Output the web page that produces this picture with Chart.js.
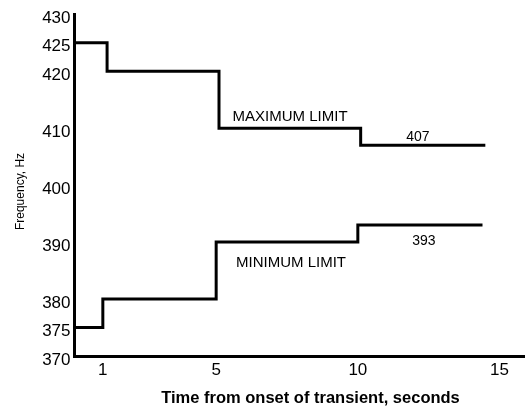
<!DOCTYPE html>
<html>
<head>
<meta charset="utf-8">
<title>Frequency transient limits</title>
<script src="https://cdn.jsdelivr.net/npm/chart.js@4/dist/chart.umd.min.js"></script>
<style>
    html, body { margin: 0; padding: 0; background: #fff; }
    #wrap { width: 525px; height: 410px; position: relative; }
</style>
</head>
<body>
<div id="wrap"><canvas id="freqChart"></canvas></div>
<script>
// values
let maxTimes = [0, 1.15, 5.1, 10.1, 14.5];
let maxHz = [425, 420, 410, 407, 407];
let minTimes = [0, 1, 5, 10, 14.4];
let minHz = [375, 380, 390, 393, 393];

let xTicks = [1, 5, 10, 15];
let yTicks = [370, 375, 380, 390, 400, 410, 420, 425, 430];

// text notes on the plot (data units)
let noteText = ["MAXIMUM LIMIT", "407", "393", "MINIMUM LIMIT"];
let noteX = [7.61, 12.12, 12.33, 7.64];
let noteY = [411.3, 407.8, 389.4, 385.6];

const FONT = "'Liberation Sans', Arial, sans-serif";

function toPoints(xs, ys) {
    return xs.map((x, i) => ({ x: x, y: ys[i] }));
}

// draws the notes and the two axis titles
const textPlugin = {
    id: "textPlugin",
    afterDraw(chart) {
        let ctx = chart.ctx;
        let xs = chart.scales.x;
        let ys = chart.scales.y;
        ctx.save();
        ctx.fillStyle = "#000";
        ctx.textAlign = "center";
        ctx.textBaseline = "alphabetic";
        noteText.forEach((t, i) => {
            ctx.font = (t.length > 3 ? "15px " : "14px ") + FONT;
            ctx.fillText(t, xs.getPixelForValue(noteX[i]), ys.getPixelForValue(noteY[i]));
        });

        // x axis title
        ctx.font = "bold 16.5px " + FONT;
        ctx.fillText("Time from onset of transient, seconds", 310.5, 403);

        // y axis title
        ctx.font = "12px " + FONT;
        ctx.translate(24, 191.5);
        ctx.rotate(-Math.PI / 2);
        ctx.fillText("Frequency, Hz", 0, 0);
        ctx.restore();
    }
};

let ctx = document.getElementById("freqChart").getContext("2d");
let freqChart = new Chart(ctx, {
    type: "line",
    data: {
        datasets: [
            {
                label: "Maximum limit",
                data: toPoints(maxTimes, maxHz),
                stepped: true,
                borderColor: "#000",
                borderWidth: 3,
                pointRadius: 0,
                fill: false
            },
            {
                label: "Minimum limit",
                data: toPoints(minTimes, minHz),
                stepped: true,
                borderColor: "#000",
                borderWidth: 3,
                pointRadius: 0,
                fill: false
            }
        ]
    },
    options: {
        responsive: true,
        maintainAspectRatio: false,
        animation: false,
        layout: { padding: { top: 12, left: 0, right: 0, bottom: 0 } },
        plugins: {
            legend: { display: false },
            tooltip: { enabled: false }
        },
        scales: {
            x: {
                type: "linear",
                min: 0,
                max: 15.9,
                grid: { display: false, drawTicks: false },
                border: { display: true, color: "#000", width: 3 },
                afterBuildTicks: (scale) => { scale.ticks = xTicks.map(v => ({ value: v })); },
                afterFit: (scale) => { scale.height = 54; },
                ticks: {
                    color: "#000",
                    padding: 4,
                    maxRotation: 0,
                    font: { family: FONT, size: 17 }
                }
            },
            y: {
                type: "linear",
                min: 370,
                max: 430,
                grid: { display: false, drawTicks: false },
                border: { display: true, color: "#000", width: 3 },
                afterBuildTicks: (scale) => { scale.ticks = yTicks.map(v => ({ value: v })); },
                afterFit: (scale) => { scale.width = 74.5; },
                ticks: {
                    color: "#000",
                    padding: 4,
                    labelOffset: 4,
                    font: { family: FONT, size: 17 }
                }
            }
        }
    },
    plugins: [textPlugin]
});
</script>
</body>
</html>
